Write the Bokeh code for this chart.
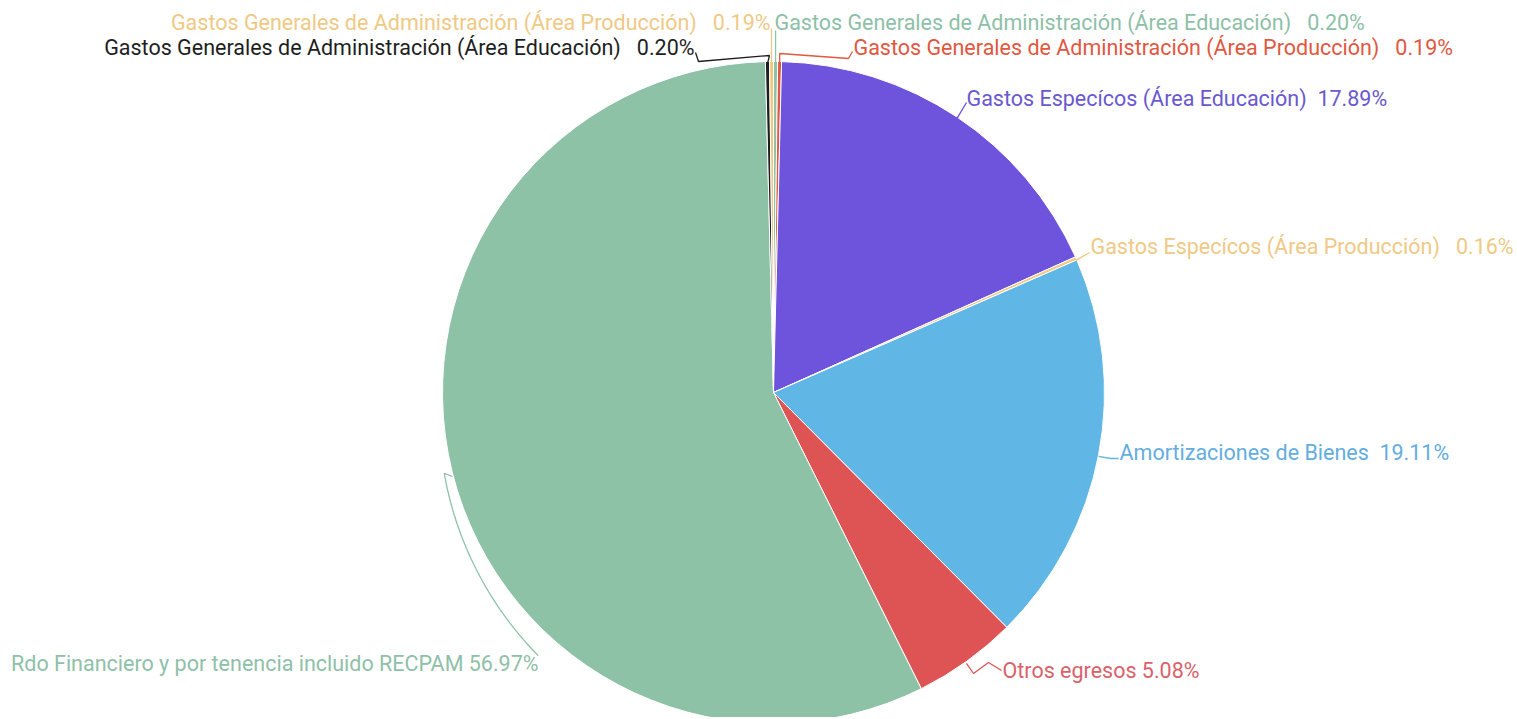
import numpy as np
from bokeh.plotting import figure
from bokeh.models import Range1d, ColumnDataSource
from bokeh.core.properties import value
from bokeh.embed import file_html
from bokeh.resources import INLINE

# ---------------- data (clockwise from 12 o'clock) ----------------
categories = [
    "Gastos Generales de Administración (Área Educación)",
    "Gastos Generales de Administración (Área Producción)",
    "Gastos Especícos (Área Educación)",
    "Gastos Especícos (Área Producción)",
    "Amortizaciones de Bienes",
    "Otros egresos",
    "Rdo Financiero y por tenencia incluido RECPAM",
    "Gastos Generales de Administración (Área Educación)",
    "Gastos Generales de Administración (Área Producción)",
]
percent = [0.20, 0.19, 17.89, 0.16, 19.11, 5.08, 56.97, 0.20, 0.19]

# ---------------- styles / layout ----------------
gap_spaces = [3, 3, 2, 3, 2, 1, 1, 3, 3]
colors = ["#8EC3A9", "#E2573F", "#6E54DC", "#F0C87E", "#60B6E4",
          "#DE5353", "#8EC2A6", "#1E1E1E", "#F0C87E"]
label_colors = ["#8EC0A8", "#E2573F", "#6A58D0", "#EFC985", "#64ADDF",
                "#D9626A", "#8FC0A8", "#1E1E1E", "#EFC985"]

W, H = 1515, 717
CX, CY, R = 773, 392, 331          # page-pixel layout of the pie

def fx(X):
    return np.asarray(X, dtype=float)

def fy(Y):
    return H - np.asarray(Y, dtype=float)

# label anchors in page pixels (layout) and alignment
label_xy = [(774, 22), (853, 47), (966, 98), (1090, 246), (1119, 452),
            (1002, 670), (538, 663), (694, 47), (770, 22)]
label_align = ["left", "left", "left", "left", "left",
               "left", "right", "right", "right"]

vals = np.array(percent, dtype=float)
frac = vals / vals.sum()
cum_end = np.cumsum(frac)
cum_start = cum_end - frac
start_angle = np.pi / 2 - 2 * np.pi * cum_start
end_angle = np.pi / 2 - 2 * np.pi * cum_end
mid = (cum_start + cum_end) / 2
rim_x = CX + R * np.sin(2 * np.pi * mid)
rim_y = CY - R * np.cos(2 * np.pi * mid)

p = figure(width=W, height=H, output_backend="svg", toolbar_location=None,
           x_range=Range1d(0, W), y_range=Range1d(0, H),
           min_border=0, min_border_left=0, min_border_right=0,
           min_border_top=0, min_border_bottom=0)
p.axis.visible = False
p.grid.visible = False
p.outline_line_color = None
p.background_fill_color = "white"
p.border_fill_color = "white"

src = ColumnDataSource(dict(start=start_angle, end=end_angle, color=colors,
                            cat=categories, pct=percent))
p.wedge(x=float(CX), y=float(H - CY), radius=R, start_angle="start",
        end_angle="end", direction="clock", fill_color="color",
        line_color="white", line_width=1, source=src)

# ---------------- leader lines ----------------
xs, ys, lc = [], [], []

def leader(i, pts):
    X = [rim_x[i]] + [q[0] for q in pts]
    Y = [rim_y[i] + 2] + [q[1] for q in pts]
    xs.append([float(v) for v in fx(X)])
    ys.append([float(v) for v in fy(Y)])
    lc.append(colors[i])

leader(0, [(rim_x[0], 30)])
leader(1, [(rim_x[1], 53), (848, 58), (852, 51)])
leader(2, [(966, 102)])
leader(3, [(1089, 252)])
leader(4, [(1110, 458), (1118, 458)])
leader(5, [(973, 673), (988, 662), (1001, 670)])
leader(7, [(rim_x[7] + 2, 55), (698, 61), (695, 52)])
leader(8, [(rim_x[8], 28)])

# curved leader for the big slice
t = np.radians(np.linspace(166.2, 131.8, 40))
rr = np.linspace(339, 353, 40)
ax_ = CX + rr * np.cos(t)
ay_ = CY + rr * np.sin(t)
xs.append([float(v) for v in fx(np.concatenate([[452], ax_]))])
ys.append([float(v) for v in fy(np.concatenate([[476], ay_]))])
lc.append(colors[6])

p.multi_line(xs=xs, ys=ys, line_color=lc, line_width=1.3)

# ---------------- labels ----------------
texts = [c + "\u00a0" * (g - 1) + " " + f"{v:.2f}%"
         for c, g, v in zip(categories, gap_spaces, percent)]
lsrc = ColumnDataSource(dict(x=[float(q[0]) for q in label_xy],
                             y=[float(H - q[1]) for q in label_xy],
                             text=texts, color=label_colors,
                             align=label_align))
p.text(x="x", y="y", text="text", text_color="color", text_align="align",
       text_baseline="middle", text_font=value("Roboto"),
       text_font_size=value("21.5px"), source=lsrc)

open("out.html", "w").write(file_html(p, INLINE))
